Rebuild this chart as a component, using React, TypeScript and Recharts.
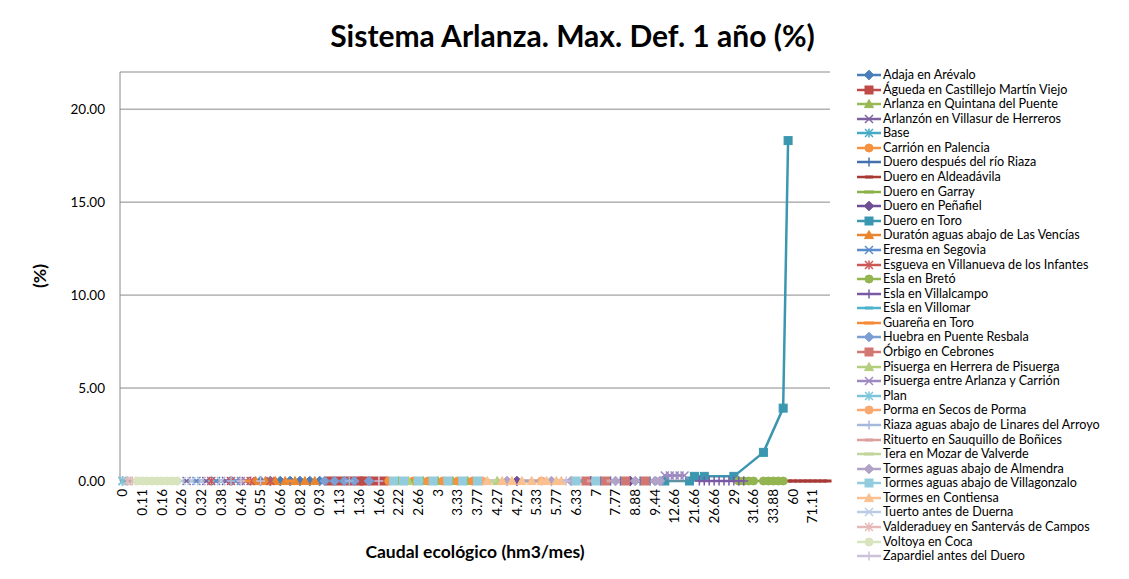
import React from 'react';
import { LineChart, Line, XAxis, YAxis, CartesianGrid } from 'recharts';

// ---------- data ----------
const xTickLabels = [
  '0', '0.11', '0.16', '0.26', '0.32', '0.38', '0.46', '0.55', '0.66', '0.82', '0.93', '1.13',
  '1.36', '1.66', '2.22', '2.66', '3', '3.33', '3.77', '4.27', '4.72', '5.33', '5.77', '6.33',
  '7', '7.77', '8.88', '9.44', '12.66', '21.66', '26.66', '29', '31.66', '33.88', '60', '71.11',
];
const categoryCount = 144; // one label shown every 4 categories
const labelEvery = 4;
const yTicks = [0, 5, 10, 15, 20];

// series points: [category index, value (%)]
const adajaPts = [[28, 0], [30, 0], [32, 0], [34, 0], [36, 0], [38, 0], [40, 0]];
const aguedaPts = [[42, 0], [44, 0], [46, 0], [48, 0], [49, 0], [51, 0], [53, 0]];
const arlanzaPts = [[56, 0], [61, 0], [64, 0], [67, 0], [70, 0]];
const arlanzonPts = [[13, 0], [17, 0], [21, 0], [25, 0]];
const basePts = [[0, 0]];
const carrionPts = [[54, 0], [59, 0], [62, 0], [65, 0], [68, 0], [71, 0]];
const dueroRiazaPts = [[97, 0], [99, 0], [101, 0], [103, 0], [105, 0], [107, 0]];
const aldeadavilaPts = [[135, 0], [136, 0], [137, 0], [138, 0], [139, 0], [140, 0], [141, 0], [142, 0], [143, 0]];
const garrayPts = [[58, 0], [73, 0]];
const penafielPts = [[80, 0], [95, 0], [103, 0]];
const toroPts = [[110, 0], [115, 0], [116, 0.25], [118, 0.25], [124, 0.25], [130, 1.54], [134, 3.92], [135, 18.31]];
const duratonPts = [[27, 0], [29, 0], [31, 0], [33, 0], [35, 0], [37, 0], [39, 0]];
const eresmaPts = [[15, 0], [19, 0], [23, 0]];
const esguevaPts = [[18, 0], [22, 0], [26, 0], [30, 0]];
const bretoPts = [[125, 0], [126, 0], [127, 0], [128, 0], [130, 0], [131, 0], [132, 0], [133, 0], [134, 0]];
const villalcampoPts = [[117, 0], [118, 0], [119, 0], [120, 0], [121, 0], [122, 0], [123, 0], [124, 0], [125, 0], [126, 0]];
const villomarPts = [[93, 0]];
const guarenaPts = [[25, 0], [34, 0]];
const huebraPts = [[41, 0], [43, 0], [45, 0], [47, 0], [50, 0]];
const orbigoPts = [[94, 0], [98, 0], [102, 0], [106, 0]];
const pisuergaHerreraPts = [[58, 0], [76, 0]];
const pisuergaEntrePts = [[16, 0], [20, 0], [24, 0], [109, 0], [110, 0.3], [111, 0.3], [112, 0.3], [113, 0.3], [114, 0.3]];
const planPts = [[0, 0], [1, 0]];
const pormaPts = [[73, 0], [85, 0]];
const riazaPts = [[22, 0], [46, 0], [100, 0]];
const rituertoPts = [[95, 0], [99, 0]];
const teraPts = [[60, 0], [75, 0]];
const tormesAlmendraPts = [[78, 0], [87, 0], [91, 0], [100, 0], [104, 0], [108, 0], [109, 0]];
const tormesVillagonzaloPts = [[55, 0], [57, 0], [60, 0], [63, 0], [66, 0], [69, 0], [72, 0], [92, 0], [96, 0]];
const tormesContiensaPts = [[74, 0], [77, 0], [79, 0], [81, 0], [83, 0], [85, 0], [86, 0], [88, 0], [89, 0]];
const tuertoPts = [[12, 0], [14, 0], [16, 0], [20, 0]];
const valderadueyPts = [[1, 0], [2, 0]];
const voltoyaPts = [[3, 0], [4, 0], [5, 0], [6, 0], [7, 0], [8, 0], [9, 0], [10, 0], [11, 0]];
const zapardielPts = [[24, 0], [28, 0], [52, 0], [90, 0]];

// ---------- series config (names, styles) ----------
type Shape = 'diamond' | 'square' | 'triangle' | 'x' | 'star' | 'circle' | 'plus' | 'dash' | 'longdash';
const shapeCycle: Shape[] = ['diamond', 'square', 'triangle', 'x', 'star', 'circle', 'plus', 'dash', 'longdash'];

const seriesList: { name: string; color: string; pts: number[][] }[] = [
  { name: 'Adaja en Arévalo', color: '#4A7EBB', pts: adajaPts },
  { name: 'Águeda en Castillejo Martín Viejo', color: '#BE4B48', pts: aguedaPts },
  { name: 'Arlanza en Quintana del Puente', color: '#98B954', pts: arlanzaPts },
  { name: 'Arlanzón en Villasur de Herreros', color: '#7D60A0', pts: arlanzonPts },
  { name: 'Base', color: '#46AAC5', pts: basePts },
  { name: 'Carrión en Palencia', color: '#F69240', pts: carrionPts },
  { name: 'Duero después del río Riaza', color: '#4471AE', pts: dueroRiazaPts },
  { name: 'Duero en Aldeadávila', color: '#A83A36', pts: aldeadavilaPts },
  { name: 'Duero en Garray', color: '#8CB04A', pts: garrayPts },
  { name: 'Duero en Peñafiel', color: '#6E4F95', pts: penafielPts },
  { name: 'Duero en Toro', color: '#3B97B0', pts: toroPts },
  { name: 'Duratón aguas abajo de Las Vencías', color: '#E9852F', pts: duratonPts },
  { name: 'Eresma en Segovia', color: '#5A8BCB', pts: eresmaPts },
  { name: 'Esgueva en Villanueva de los Infantes', color: '#CC5855', pts: esguevaPts },
  { name: 'Esla en Bretó', color: '#92B550', pts: bretoPts },
  { name: 'Esla en Villalcampo', color: '#7A58A4', pts: villalcampoPts },
  { name: 'Esla en Villomar', color: '#4FB3CE', pts: villomarPts },
  { name: 'Guareña en Toro', color: '#F58B38', pts: guarenaPts },
  { name: 'Huebra en Puente Resbala', color: '#7B9FD3', pts: huebraPts },
  { name: 'Órbigo en Cebrones', color: '#D27673', pts: orbigoPts },
  { name: 'Pisuerga en Herrera de Pisuerga', color: '#B3CF7E', pts: pisuergaHerreraPts },
  { name: 'Pisuerga entre Arlanza y Carrión', color: '#9D88C0', pts: pisuergaEntrePts },
  { name: 'Plan', color: '#7DC5DA', pts: planPts },
  { name: 'Porma en Secos de Porma', color: '#F9A870', pts: pormaPts },
  { name: 'Riaza aguas abajo de Linares del Arroyo', color: '#A5B9DC', pts: riazaPts },
  { name: 'Rituerto en Sauquillo de Boñices', color: '#D9A19F', pts: rituertoPts },
  { name: 'Tera en Mozar de Valverde', color: '#C2D69C', pts: teraPts },
  { name: 'Tormes aguas abajo de Almendra', color: '#B1A2C8', pts: tormesAlmendraPts },
  { name: 'Tormes aguas abajo de Villagonzalo', color: '#93CDDD', pts: tormesVillagonzaloPts },
  { name: 'Tormes en Contiensa', color: '#FAC090', pts: tormesContiensaPts },
  { name: 'Tuerto antes de Duerna', color: '#B9CBE5', pts: tuertoPts },
  { name: 'Valderaduey en Santervás de Campos', color: '#E5B9B7', pts: valderadueyPts },
  { name: 'Voltoya en Coca', color: '#D7E4BD', pts: voltoyaPts },
  { name: 'Zapardiel antes del Duero', color: '#CCC1DA', pts: zapardielPts },
];

const rows: Record<string, number | null>[] = Array.from({ length: categoryCount }, (_, i) => ({ i }));
seriesList.forEach((s, k) => {
  s.pts.forEach(([i, v]) => {
    rows[i]['s' + k] = v;
  });
});

const FONT = 'Lato, Carlito, Calibri, "Open Sans", sans-serif';

function Marker({ shape, color, cx, cy }: { shape: Shape; color: string; cx: number; cy: number }) {
  const r = 4;
  switch (shape) {
    case 'diamond':
      return <polygon points={`${cx},${cy - 4.8} ${cx + 4.8},${cy} ${cx},${cy + 4.8} ${cx - 4.8},${cy}`} fill={color} stroke={color} />;
    case 'square':
      return <rect x={cx - r} y={cy - r} width={2 * r} height={2 * r} fill={color} stroke={color} />;
    case 'triangle':
      return <polygon points={`${cx},${cy - 4.5} ${cx + 4.5},${cy + 3.6} ${cx - 4.5},${cy + 3.6}`} fill={color} stroke={color} />;
    case 'x':
      return (
        <g stroke={color} strokeWidth={1.5}>
          <line x1={cx - r} y1={cy - r} x2={cx + r} y2={cy + r} />
          <line x1={cx - r} y1={cy + r} x2={cx + r} y2={cy - r} />
        </g>
      );
    case 'star':
      return (
        <g stroke={color} strokeWidth={1.5}>
          <line x1={cx - r} y1={cy - r} x2={cx + r} y2={cy + r} />
          <line x1={cx - r} y1={cy + r} x2={cx + r} y2={cy - r} />
          <line x1={cx} y1={cy - 4.5} x2={cx} y2={cy + 4.5} />
        </g>
      );
    case 'circle':
      return <circle cx={cx} cy={cy} r={r} fill={color} stroke={color} />;
    case 'plus':
      return (
        <g stroke={color} strokeWidth={1.5}>
          <line x1={cx - 4.5} y1={cy} x2={cx + 4.5} y2={cy} />
          <line x1={cx} y1={cy - 4.5} x2={cx} y2={cy + 4.5} />
        </g>
      );
    case 'dash':
      return <rect x={cx - 4} y={cy - 1.5} width={8} height={3} fill={color} />;
    case 'longdash':
    default:
      return <rect x={cx - 5} y={cy - 1.5} width={10} height={3} fill={color} />;
  }
}

const makeDot = (shape: Shape, color: string) => (props: any) => {
  const { cx, cy, value, index } = props;
  if (value == null || cx == null || cy == null || Number.isNaN(cy)) return <g key={`d${index}`} />;
  return (
    <g key={`d${index}`}>
      <Marker shape={shape} color={color} cx={cx} cy={cy} />
    </g>
  );
};

const XTick = (props: any) => {
  const { x, y, payload } = props;
  const label = xTickLabels[Math.round(payload.value / labelEvery)];
  return (
    <g transform={`translate(${x},${y})`}>
      <text transform="rotate(-90)" textAnchor="end" dy="0.35em" fontSize={13.5} fontFamily={FONT} fill="#000">
        {label}
      </text>
    </g>
  );
};

export default function App() {
  const xTickPositions = xTickLabels.map((_, k) => k * labelEvery);
  return (
    <div style={{ position: 'absolute', left: 0, top: 0, width: 1129, height: 579, background: '#fff', fontFamily: FONT }}>
      <div
        style={{
          position: 'absolute', left: 0, width: 1129, top: 15, textAlign: 'center',
          fontSize: 30, fontWeight: 700, color: '#000', lineHeight: '40px',
        }}
      >
        <span style={{ position: 'relative', left: 8 }}>Sistema Arlanza. Max. Def. 1 año (%)</span>
      </div>
      <LineChart width={1129} height={579} data={rows} margin={{ top: 72, right: 299, bottom: 0, left: 0 }}>
        <CartesianGrid horizontal vertical={false} stroke="#8A8A8A" strokeWidth={1} />
        <XAxis
          dataKey="i"
          type="number"
          domain={[-0.5, categoryCount - 0.5]}
          ticks={xTickPositions}
          interval={0}
          height={98}
          tick={<XTick />}
          tickLine={false}
          tickMargin={2}
          axisLine={{ stroke: '#8A8A8A' }}
        />
        <YAxis
          width={120}
          domain={[0, 22]}
          ticks={yTicks}
          interval={0}
          tickFormatter={(v: number) => v.toFixed(2)}
          tick={{ fontSize: 13.5, fontFamily: FONT, fill: '#000' }}
          tickLine={false}
          tickMargin={9}
          axisLine={{ stroke: '#8A8A8A' }}
        />
        {seriesList.map((s, k) => (
          <Line
            key={s.name}
            type="linear"
            dataKey={'s' + k}
            name={s.name}
            stroke={s.color}
            strokeWidth={2.5}
            connectNulls
            isAnimationActive={false}
            activeDot={false}
            dot={makeDot(shapeCycle[k % shapeCycle.length], s.color)}
          />
        ))}
      </LineChart>
      {/* axis titles */}
      <div style={{ position: 'absolute', left: 120, width: 710, top: 541, textAlign: 'center', fontSize: 17.5, fontWeight: 700, lineHeight: '22px' }}>
        Caudal ecológico (hm3/mes)
      </div>
      <div
        style={{
          position: 'absolute', left: 40, top: 276, transform: 'translate(-50%, -50%) rotate(-90deg)',
          fontSize: 17.5, fontWeight: 700, lineHeight: '20px', whiteSpace: 'nowrap',
        }}
      >
        (%)
      </div>
      {/* legend */}
      {seriesList.map((s, k) => (
        <div
          key={s.name}
          style={{ position: 'absolute', left: 856, top: 75 + k * 14.58 - 8, height: 16, display: 'flex', alignItems: 'center', whiteSpace: 'nowrap' }}
        >
          <svg width={27} height={16} style={{ display: 'block' }}>
            <line x1={1} y1={8} x2={25} y2={8} stroke={s.color} strokeWidth={2.5} />
            <Marker shape={shapeCycle[k % shapeCycle.length]} color={s.color} cx={13} cy={8} />
          </svg>
          <span style={{ fontSize: 12.6, color: '#000', lineHeight: '16px' }}>{s.name}</span>
        </div>
      ))}
    </div>
  );
}
